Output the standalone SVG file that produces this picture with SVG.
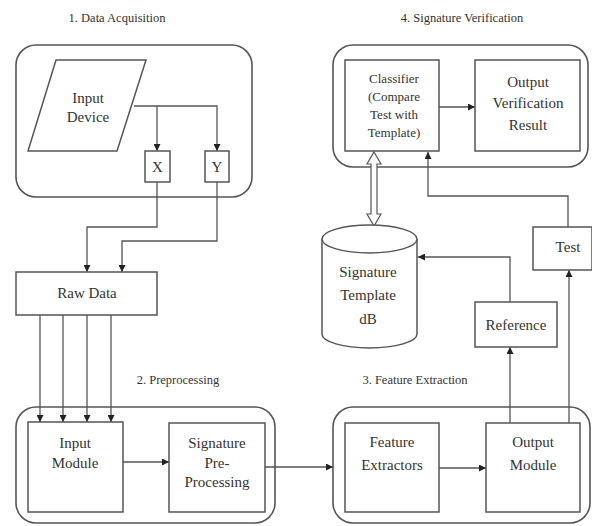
<svg xmlns="http://www.w3.org/2000/svg" width="592" height="526" viewBox="0 0 592 526" font-family="'Liberation Serif', 'Times New Roman', serif">
  <defs>
    <marker id="arr" viewBox="0 0 10 10" refX="10" refY="5" markerWidth="7" markerHeight="7" markerUnits="userSpaceOnUse" orient="auto">
      <path d="M0,0 L10,5 L0,10 z" fill="#222"/>
    </marker>
    <style>
      .grp { fill: none; stroke: #555; stroke-width: 1.6; }
      .box { fill: #fff; stroke: #555; stroke-width: 1.5; }
      .ln { fill: none; stroke: #555; stroke-width: 1.3; }
      .lbl { font-family: 'Liberation Serif', 'Times New Roman', serif; font-size: 15px; fill: #333; text-anchor: middle; }
      .sm { font-size: 13px; }
      .ttl { font-family: 'Liberation Serif', 'Times New Roman', serif; font-size: 12.5px; fill: #333; text-anchor: middle; }
    </style>
  </defs>
  <rect width="592" height="526" fill="#fff"/>

  <!-- stage titles -->
  <text class="ttl" x="117" y="22">1. Data Acquisition</text>
  <text class="ttl" x="462" y="22">4. Signature Verification</text>
  <text class="ttl" x="178" y="384">2. Preprocessing</text>
  <text class="ttl" x="415" y="384">3. Feature Extraction</text>

  <!-- stage containers -->
  <g id="stage-acquisition"><rect class="grp" x="16" y="45" width="236" height="152" rx="20"/></g>
  <g id="stage-verification"><rect class="grp" x="333" y="45" width="255" height="122" rx="20"/></g>
  <g id="stage-preprocessing"><rect class="grp" x="16" y="407" width="259" height="116" rx="20"/></g>
  <g id="stage-extraction"><rect class="grp" x="333" y="407" width="257" height="116" rx="20"/></g>

  <!-- connectors -->
  <g id="connectors">
    <!-- input device to X and Y -->
    <path class="ln" d="M134,106 H217 V151" marker-end="url(#arr)"/>
    <path class="ln" d="M157,106 V151" marker-end="url(#arr)"/>
    <!-- X, Y to raw data -->
    <path class="ln" d="M157,182 V227 H87 V272" marker-end="url(#arr)"/>
    <path class="ln" d="M217,182 V241 H122 V272" marker-end="url(#arr)"/>
    <!-- raw data to input module -->
    <path class="ln" d="M40,315 V422" marker-end="url(#arr)"/>
    <path class="ln" d="M63,315 V422" marker-end="url(#arr)"/>
    <path class="ln" d="M87,315 V422" marker-end="url(#arr)"/>
    <path class="ln" d="M111,315 V422" marker-end="url(#arr)"/>
    <!-- preprocessing chain -->
    <path class="ln" d="M123,462 H169" marker-end="url(#arr)"/>
    <path class="ln" d="M265,467 H333" marker-end="url(#arr)"/>
    <path class="ln" d="M439,468 H486" marker-end="url(#arr)"/>
    <!-- output module to reference and test -->
    <path class="ln" d="M510,423 V347" marker-end="url(#arr)"/>
    <path class="ln" d="M569,423 V270" marker-end="url(#arr)"/>
    <!-- reference to template store -->
    <path class="ln" d="M510,302 V257 H418" marker-end="url(#arr)"/>
    <!-- test to classifier -->
    <path class="ln" d="M568,227 V196 H428 V152" marker-end="url(#arr)"/>
    <!-- classifier to result -->
    <path class="ln" d="M439,107 H475" marker-end="url(#arr)"/>
    <!-- two-way hollow link classifier / template store -->
    <path d="M374,152 L381,164 L377,164 L377,214 L381,214 L374,226 L367,214 L371,214 L371,164 L367,164 Z" fill="#fff" stroke="#555" stroke-width="1.2"/>
  </g>

  <!-- nodes -->
  <g id="input-device">
    <polygon class="box" points="56,60 146,60 117,151 28,151"/>
    <text class="lbl" x="88" y="103">Input</text>
    <text class="lbl" x="88" y="122">Device</text>
  </g>
  <g id="x-channel">
    <rect class="box" x="145" y="151" width="25" height="31"/>
    <text class="lbl" x="157.5" y="172">X</text>
  </g>
  <g id="y-channel">
    <rect class="box" x="205" y="151" width="24" height="31"/>
    <text class="lbl" x="217" y="172">Y</text>
  </g>
  <g id="raw-data">
    <rect class="box" x="16" y="272" width="141" height="43"/>
    <text class="lbl" x="87" y="298">Raw Data</text>
  </g>
  <g id="input-module">
    <rect class="box" x="28" y="422" width="95" height="90"/>
    <text class="lbl" x="75" y="448">Input</text>
    <text class="lbl" x="75" y="468">Module</text>
  </g>
  <g id="signature-preprocessing">
    <rect class="box" x="169" y="423" width="96" height="89"/>
    <text class="lbl" x="217" y="448">Signature</text>
    <text class="lbl" x="217" y="468">Pre-</text>
    <text class="lbl" x="217" y="487">Processing</text>
  </g>
  <g id="feature-extractors">
    <rect class="box" x="345" y="423" width="94" height="89"/>
    <text class="lbl" x="392" y="447">Feature</text>
    <text class="lbl" x="392" y="470">Extractors</text>
  </g>
  <g id="output-module">
    <rect class="box" x="486" y="423" width="94" height="89"/>
    <text class="lbl" x="533" y="447">Output</text>
    <text class="lbl" x="533" y="470">Module</text>
  </g>
  <g id="reference">
    <rect class="box" x="475" y="302" width="82" height="45"/>
    <text class="lbl" x="516" y="330">Reference</text>
  </g>
  <g id="test">
    <rect class="box" x="533" y="227" width="59" height="43"/>
    <text class="lbl" x="568" y="252">Test</text>
  </g>
  <g id="template-db">
    <path class="box" d="M322,239 V334 A47.5,14 0 0 0 417,334 V239"/>
    <ellipse class="box" cx="369.5" cy="239" rx="47.5" ry="14"/>
    <text class="lbl" x="368" y="277">Signature</text>
    <text class="lbl" x="368" y="300">Template</text>
    <text class="lbl" x="368" y="324">dB</text>
  </g>
  <g id="classifier">
    <rect class="box" x="345" y="60" width="94" height="91"/>
    <text class="lbl sm" x="394" y="83">Classifier</text>
    <text class="lbl sm" x="394" y="101">(Compare</text>
    <text class="lbl sm" x="394" y="119">Test with</text>
    <text class="lbl sm" x="394" y="137">Template)</text>
  </g>
  <g id="verification-result">
    <rect class="box" x="475" y="60" width="105" height="91"/>
    <text class="lbl" x="528" y="87">Output</text>
    <text class="lbl" x="528" y="108">Verification</text>
    <text class="lbl" x="528" y="130">Result</text>
  </g>
</svg>
